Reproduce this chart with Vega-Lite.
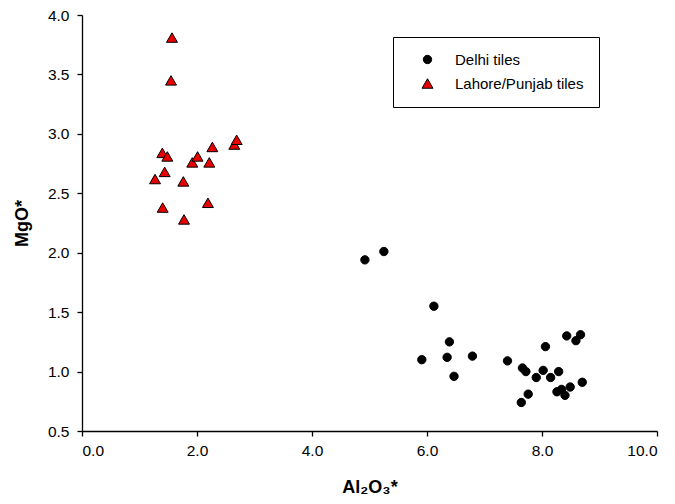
{
  "$schema": "https://vega.github.io/schema/vega-lite/v6.json",
  "width": 575,
  "height": 416,
  "autosize": "none",
  "padding": {"left": 82, "top": 15, "right": 18, "bottom": 73},
  "background": "white",
  "config": {
    "view": {"stroke": null},
    "font": "Liberation Sans",
    "axis": {
      "grid": false,
      "domainColor": "black",
      "tickColor": "black",
      "labelColor": "black",
      "titleColor": "black",
      "labelFont": "Liberation Sans",
      "titleFont": "Liberation Sans",
      "labelFontSize": 15.5,
      "titleFontSize": 18,
      "titleFontWeight": "bold",
      "tickSize": 5,
      "domainWidth": 1.3,
      "tickWidth": 1.3
    }
  },
  "data": {
    "values": [
      {"al": 1.565, "mg": 3.81, "group": "Lahore/Punjab tiles"},
      {"al": 1.548, "mg": 3.45, "group": "Lahore/Punjab tiles"},
      {"al": 1.397, "mg": 2.84, "group": "Lahore/Punjab tiles"},
      {"al": 1.484, "mg": 2.81, "group": "Lahore/Punjab tiles"},
      {"al": 1.438, "mg": 2.68, "group": "Lahore/Punjab tiles"},
      {"al": 1.27, "mg": 2.62, "group": "Lahore/Punjab tiles"},
      {"al": 1.403, "mg": 2.38, "group": "Lahore/Punjab tiles"},
      {"al": 1.762, "mg": 2.6, "group": "Lahore/Punjab tiles"},
      {"al": 1.774, "mg": 2.28, "group": "Lahore/Punjab tiles"},
      {"al": 1.918, "mg": 2.76, "group": "Lahore/Punjab tiles"},
      {"al": 2.01, "mg": 2.81, "group": "Lahore/Punjab tiles"},
      {"al": 2.214, "mg": 2.76, "group": "Lahore/Punjab tiles"},
      {"al": 2.267, "mg": 2.89, "group": "Lahore/Punjab tiles"},
      {"al": 2.19, "mg": 2.42, "group": "Lahore/Punjab tiles"},
      {"al": 2.649, "mg": 2.91, "group": "Lahore/Punjab tiles"},
      {"al": 2.69, "mg": 2.95, "group": "Lahore/Punjab tiles"},
      {"al": 4.92, "mg": 1.94, "group": "Delhi tiles"},
      {"al": 5.25, "mg": 2.01, "group": "Delhi tiles"},
      {"al": 6.12, "mg": 1.55, "group": "Delhi tiles"},
      {"al": 6.39, "mg": 1.25, "group": "Delhi tiles"},
      {"al": 5.91, "mg": 1.1, "group": "Delhi tiles"},
      {"al": 6.35, "mg": 1.12, "group": "Delhi tiles"},
      {"al": 6.79, "mg": 1.13, "group": "Delhi tiles"},
      {"al": 6.47, "mg": 0.96, "group": "Delhi tiles"},
      {"al": 8.43, "mg": 1.3, "group": "Delhi tiles"},
      {"al": 8.59, "mg": 1.26, "group": "Delhi tiles"},
      {"al": 8.67, "mg": 1.31, "group": "Delhi tiles"},
      {"al": 8.06, "mg": 1.21, "group": "Delhi tiles"},
      {"al": 7.4, "mg": 1.09, "group": "Delhi tiles"},
      {"al": 7.66, "mg": 1.03, "group": "Delhi tiles"},
      {"al": 7.72, "mg": 1.0, "group": "Delhi tiles"},
      {"al": 7.9, "mg": 0.95, "group": "Delhi tiles"},
      {"al": 8.02, "mg": 1.01, "group": "Delhi tiles"},
      {"al": 8.15, "mg": 0.95, "group": "Delhi tiles"},
      {"al": 8.29, "mg": 1.0, "group": "Delhi tiles"},
      {"al": 8.7, "mg": 0.91, "group": "Delhi tiles"},
      {"al": 7.76, "mg": 0.81, "group": "Delhi tiles"},
      {"al": 7.64, "mg": 0.74, "group": "Delhi tiles"},
      {"al": 8.26, "mg": 0.83, "group": "Delhi tiles"},
      {"al": 8.34, "mg": 0.85, "group": "Delhi tiles"},
      {"al": 8.4, "mg": 0.8, "group": "Delhi tiles"},
      {"al": 8.49, "mg": 0.87, "group": "Delhi tiles"}
    ]
  },
  "mark": {"type": "point", "filled": true, "stroke": "black", "strokeWidth": 1, "opacity": 1},
  "encoding": {
    "x": {
      "field": "al", "type": "quantitative",
      "scale": {"domain": [0, 10], "nice": false},
      "axis": {"values": [0, 2, 4, 6, 8, 10], "format": ".1f", "title": "Al₂O₃*", "labelPadding": 7, "titlePadding": 20}
    },
    "y": {
      "field": "mg", "type": "quantitative",
      "scale": {"domain": [0.5, 4.0], "nice": false, "zero": false},
      "axis": {"values": [0.5, 1.0, 1.5, 2.0, 2.5, 3.0, 3.5, 4.0], "format": ".1f", "title": "MgO*", "labelPadding": 8, "titlePadding": 16}
    },
    "color": {
      "field": "group", "type": "nominal",
      "scale": {"domain": ["Delhi tiles", "Lahore/Punjab tiles"], "range": ["black", "#e80000"]},
      "legend": {
        "title": null,
        "orient": "none",
        "legendX": 311,
        "legendY": 22,
        "padding": 15,
        "strokeColor": "black",
        "fillColor": "white",
        "labelFontSize": 15,
        "labelFont": "Liberation Sans",
        "labelColor": "black",
        "symbolOffset": 12,
        "labelOffset": 20,
        "rowPadding": 8,
        "symbolStrokeColor": "black",
        "symbolStrokeWidth": 1,
        "symbolSize": 80
      }
    },
    "shape": {
      "field": "group", "type": "nominal",
      "scale": {"domain": ["Delhi tiles", "Lahore/Punjab tiles"], "range": ["circle", "triangle-up"]}
    },
    "size": {
      "field": "group", "type": "nominal",
      "scale": {"domain": ["Delhi tiles", "Lahore/Punjab tiles"], "range": [70, 120]},
      "legend": null
    }
  }
}
